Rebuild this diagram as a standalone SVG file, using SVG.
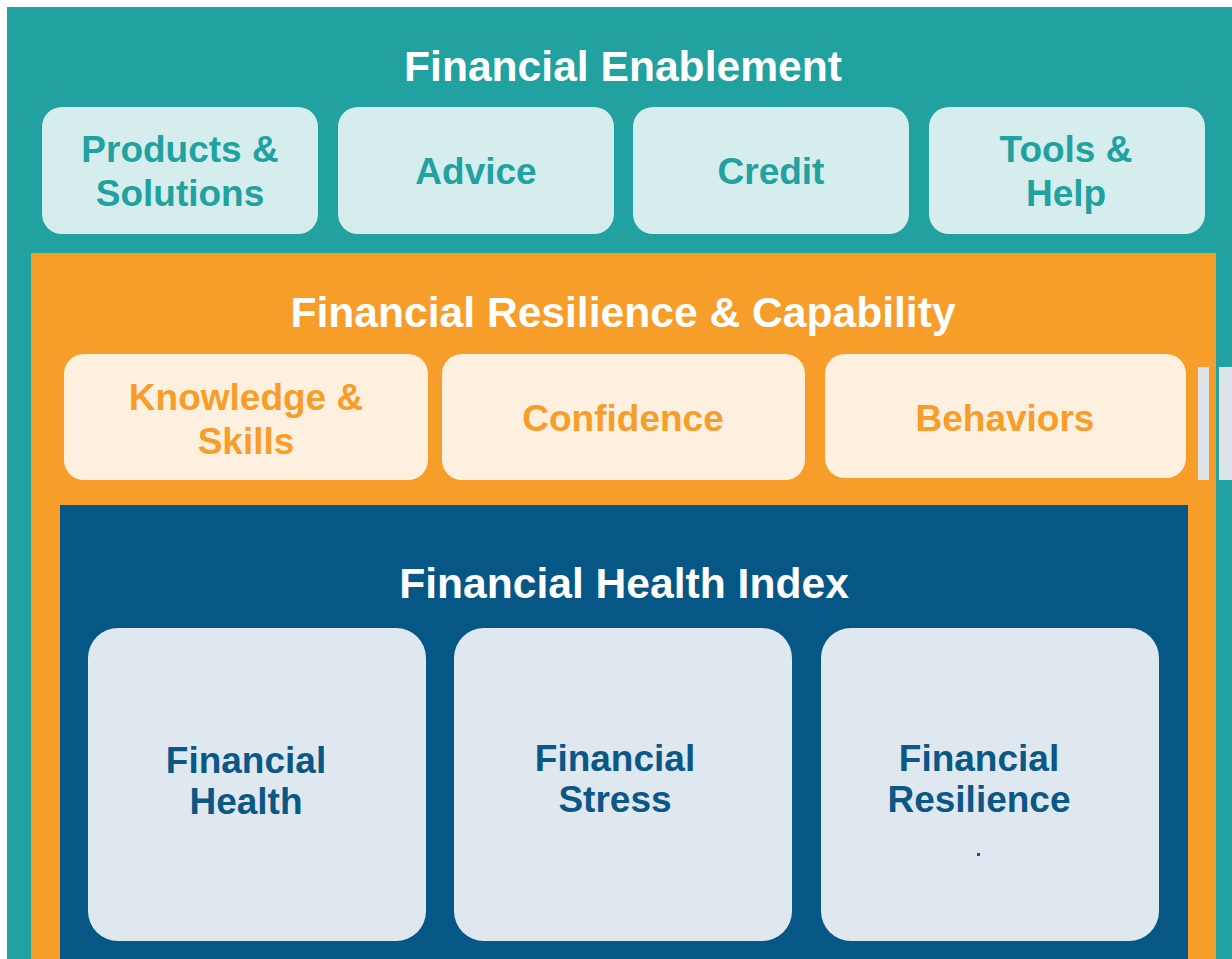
<svg xmlns="http://www.w3.org/2000/svg" width="1232" height="959" viewBox="0 0 1232 959">
  <style>
    text { font-family: "Liberation Sans", Arial, sans-serif; font-weight: bold; text-anchor: middle; }
    .title { fill: #ffffff; font-size: 42.6px; }
    .teal-box { fill: #d5eded; }
    .teal-txt { fill: #21a19f; font-size: 37px; }
    .orange-box { fill: #fef0df; }
    .orange-txt { fill: #f79d2a; font-size: 37px; }
    .blue-box { fill: #e0e8ef; }
    .blue-txt { fill: #0b5786; font-size: 37px; }
    .bar { fill: #dde1e8; }
  </style>
  <rect width="1232" height="959" fill="#ffffff"/>

  <!-- Outer layer: Financial Enablement -->
  <g id="financial-enablement">
    <rect x="7" y="7" width="1225" height="952" fill="#21a19f"/>
    <text class="title" x="623" y="81">Financial Enablement</text>
  </g>
  <g id="products-solutions">
    <rect class="teal-box" x="42" y="107" width="276" height="127" rx="20"/>
    <text class="teal-txt" x="180" y="162">Products &amp;</text>
    <text class="teal-txt" x="180" y="206">Solutions</text>
  </g>
  <g id="advice">
    <rect class="teal-box" x="338" y="107" width="276" height="127" rx="20"/>
    <text class="teal-txt" x="476" y="184">Advice</text>
  </g>
  <g id="credit">
    <rect class="teal-box" x="633" y="107" width="276" height="127" rx="20"/>
    <text class="teal-txt" x="771" y="184">Credit</text>
  </g>
  <g id="tools-help">
    <rect class="teal-box" x="929" y="107" width="276" height="127" rx="20"/>
    <text class="teal-txt" x="1066" y="162">Tools &amp;</text>
    <text class="teal-txt" x="1066" y="206">Help</text>
  </g>

  <!-- Middle layer: Financial Resilience & Capability -->
  <g id="financial-resilience-capability">
    <rect x="31" y="253" width="1185" height="706" fill="#f79d2a"/>
    <text class="title" x="623" y="327">Financial Resilience &amp; Capability</text>
    <rect class="bar" x="1198" y="367" width="11" height="113"/>
    <rect class="bar" x="1219" y="367" width="13" height="113"/>
  </g>
  <g id="knowledge-skills">
    <rect class="orange-box" x="64" y="354" width="364" height="126" rx="20"/>
    <text class="orange-txt" x="246" y="410">Knowledge &amp;</text>
    <text class="orange-txt" x="246" y="454">Skills</text>
  </g>
  <g id="confidence">
    <rect class="orange-box" x="442" y="354" width="363" height="126" rx="20"/>
    <text class="orange-txt" x="623" y="431">Confidence</text>
  </g>
  <g id="behaviors">
    <rect class="orange-box" x="825" y="354" width="361" height="124" rx="20"/>
    <text class="orange-txt" x="1005" y="431">Behaviors</text>
  </g>

  <!-- Inner layer: Financial Health Index -->
  <g id="financial-health-index">
    <rect x="60" y="505" width="1128" height="454" fill="#065785"/>
    <text class="title" x="624" y="598">Financial Health Index</text>
  </g>
  <g id="financial-health">
    <rect class="blue-box" x="88" y="628" width="338" height="313" rx="30"/>
    <text class="blue-txt" x="246" y="773">Financial</text>
    <text class="blue-txt" x="246" y="814">Health</text>
  </g>
  <g id="financial-stress">
    <rect class="blue-box" x="454" y="628" width="338" height="313" rx="30"/>
    <text class="blue-txt" x="615" y="771">Financial</text>
    <text class="blue-txt" x="615" y="812">Stress</text>
  </g>
  <g id="financial-resilience">
    <rect class="blue-box" x="821" y="628" width="338" height="313" rx="30"/>
    <text class="blue-txt" x="979" y="771">Financial</text>
    <text class="blue-txt" x="979" y="812">Resilience</text>
    <rect x="977" y="853" width="3" height="3" fill="#0b5786"/>
  </g>

  <!-- No connectors in this layered diagram -->
  <g id="connectors"/>
</svg>
